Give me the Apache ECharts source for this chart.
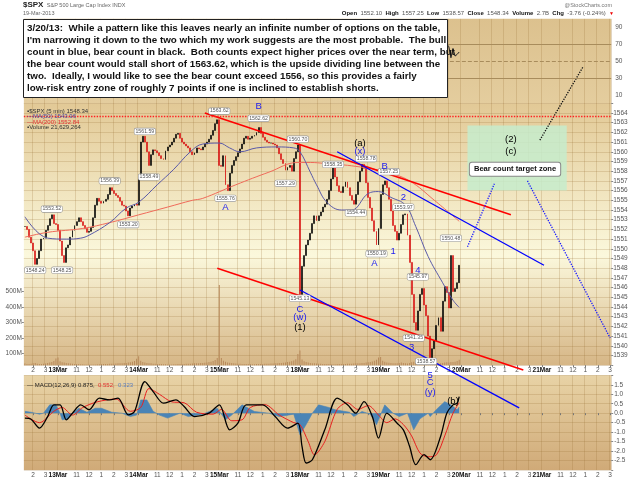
<!DOCTYPE html>
<html>
<head>
<meta charset="utf-8">
<script src="https://cdn.jsdelivr.net/npm/echarts@6.0.0/dist/echarts.min.js"></script>
<style>
  html, body { margin: 0; padding: 0; background: #fff; }
  #chart { width: 640px; height: 479px; }
</style>
</head>
<body>
<div id="chart"></div>
<script>
// trading days on the axis; each day is cut into 10 minute slots from 9:30
const dayNames = ['12Mar', '13Mar', '14Mar', '15Mar', '18Mar', '19Mar', '20Mar', '21Mar']
const dayFirstSlot = [23, 0, 0, 0, 0, 0, 0, 0]
const dayLastSlot = [38, 38, 38, 38, 38, 38, 38, 33]

// $SPX closes, one per slot
const close12 = [1552.3, 1552.0, 1551.2, 1550.6, 1549.8, 1548.4, 1549.0, 1549.8, 1551.0, 1551.1, 1551.9, 1552.4, 1553.1, 1553.5, 1552.6, 1552.5]
const close13 = [1551.9, 1550.8, 1549.3, 1548.6, 1550.1, 1550.4, 1551.2, 1551.9, 1552.4, 1552.8, 1553.2, 1552.8, 1552.4, 1552.1, 1551.7, 1551.8, 1552.2, 1553.2, 1554.5, 1555.2, 1554.9, 1554.7, 1554.9, 1555.1, 1555.6, 1556.3, 1556.0, 1555.7, 1555.5, 1555.3, 1554.9, 1554.5, 1554.4, 1553.9, 1553.4, 1554.2, 1554.4, 1554.6, 1554.5]
const close14 = [1557.5, 1561.0, 1561.6, 1561.0, 1560.0, 1558.6, 1559.7, 1560.2, 1560.1, 1559.9, 1559.6, 1559.3, 1559.2, 1560.1, 1560.5, 1560.7, 1561.0, 1561.4, 1561.8, 1561.9, 1561.4, 1561.0, 1560.8, 1560.6, 1560.4, 1560.0, 1559.7, 1559.9, 1560.4, 1560.3, 1560.2, 1560.5, 1560.8, 1561.0, 1561.3, 1561.7, 1562.2, 1562.9, 1563.3]
const close15 = [1558.6, 1558.5, 1559.6, 1556.6, 1556.0, 1557.8, 1558.6, 1559.1, 1559.5, 1559.9, 1560.3, 1560.8, 1561.4, 1561.6, 1561.3, 1561.4, 1561.6, 1561.7, 1562.0, 1562.5, 1561.9, 1561.5, 1561.2, 1561.0, 1560.9, 1560.9, 1560.8, 1560.7, 1560.4, 1559.8, 1559.2, 1558.8, 1558.1, 1558.4, 1558.6, 1558.0, 1559.3, 1560.0, 1560.7]
const close18 = [1545.3, 1548.2, 1549.3, 1550.4, 1550.9, 1551.6, 1552.6, 1553.4, 1552.9, 1553.4, 1553.8, 1554.3, 1554.6, 1555.1, 1556.0, 1557.2, 1558.4, 1557.4, 1556.5, 1555.9, 1555.8, 1556.4, 1556.9, 1556.3, 1555.5, 1555.0, 1554.6, 1555.6, 1556.9, 1558.0, 1558.7, 1558.3, 1556.8, 1555.3, 1554.2, 1552.9, 1551.8, 1550.4, 1552.1]
const close19 = [1555.6, 1556.6, 1557.0, 1556.3, 1555.1, 1553.9, 1552.4, 1551.8, 1550.9, 1551.6, 1552.5, 1553.5, 1553.6, 1551.4, 1548.6, 1545.3, 1542.4, 1541.6, 1543.6, 1545.3, 1545.9, 1544.2, 1543.1, 1541.0, 1538.6, 1539.7, 1540.5, 1542.1, 1542.9, 1541.5, 1544.6, 1546.1, 1545.5, 1543.9, 1549.3, 1545.6, 1545.9, 1546.5, 1548.3]

// volume per slot, millions
const vol12 = [34, 31, 30, 33, 36, 38, 33, 31, 30, 32, 34, 37, 40, 44, 50, 66]
const vol13 = [72, 48, 42, 40, 37, 35, 34, 33, 31, 30, 30, 29, 29, 28, 28, 28, 27, 27, 28, 29, 29, 30, 30, 31, 31, 32, 33, 33, 34, 35, 36, 36, 37, 38, 40, 42, 45, 50, 64]
const vol14 = [80, 52, 44, 41, 38, 36, 35, 33, 32, 31, 30, 30, 29, 29, 28, 28, 28, 29, 29, 30, 30, 31, 31, 32, 32, 33, 34, 35, 35, 36, 37, 38, 39, 41, 43, 46, 50, 56, 70]
const vol15 = [540, 70, 52, 45, 41, 39, 37, 35, 34, 33, 32, 31, 31, 30, 30, 30, 29, 29, 30, 30, 31, 31, 32, 32, 33, 34, 34, 35, 36, 37, 38, 39, 41, 43, 45, 48, 53, 62, 95]
const vol18 = [118, 60, 48, 43, 40, 38, 36, 35, 34, 33, 32, 31, 31, 30, 30, 30, 29, 29, 30, 30, 30, 31, 31, 32, 33, 33, 34, 35, 36, 36, 37, 38, 40, 42, 44, 47, 51, 58, 72]
const vol19 = [76, 52, 45, 41, 39, 37, 36, 35, 36, 38, 40, 38, 36, 34, 37, 42, 45, 41, 38, 36, 35, 34, 35, 37, 40, 38, 36, 35, 34, 36, 38, 40, 42, 40, 44, 43, 45, 50, 58]

// overlays read at [slot, value]
const ma50 = [[0, 1553.3], [11, 1551.1], [20, 1551.0], [27, 1551.1], [31, 1551.4], [41, 1552.7], [49, 1554.2], [55, 1554.8], [64, 1556.6], [72, 1558.2], [80, 1560.0], [86, 1560.8], [94, 1560.9], [99, 1560.4], [104, 1560.0], [112, 1560.4], [122, 1560.5], [130, 1560.4], [133, 1560.0], [138, 1557.9], [141, 1556.6], [146, 1554.8], [153, 1554.0], [158, 1554.0], [166, 1555.7], [171, 1555.9], [177, 1555.3], [184, 1554.5], [189, 1552.3], [195, 1549.2], [202, 1546.5], [207, 1544.7], [210, 1543.96]]
const ma200 = [[0, 1551.2], [11, 1551.7], [28, 1552.1], [41, 1552.7], [55, 1553.5], [69, 1554.3], [81, 1555.0], [86, 1555.2], [102, 1556.6], [118, 1557.9], [132, 1558.9], [138, 1558.9], [145, 1558.8], [160, 1558.5], [175, 1557.9], [186, 1557.0], [198, 1555.0], [210, 1552.84]]
const rsi14 = [[203, 66], [204, 70], [205, 67], [206, 54], [207, 65], [208, 56], [209, 58], [210, 60.83]]
const macdLine = [[0, -0.26], [3, -0.32], [7, -0.79], [11, -0.18], [14, 0.44], [17, 0.44], [20, -0.35], [23, 0.0], [27, 0.44], [31, 0.18], [36, 0.79], [41, 0.70], [45, 0.79], [50, -0.09], [53, 0.09], [58, 1.67], [62, 1.14], [67, 0.53], [73, 0.70], [77, 0.35], [82, -0.18], [89, 0.0], [94, 0.44], [99, -0.88], [103, -0.53], [107, 0.44], [115, 0.44], [121, -0.18], [127, -0.79], [132, -0.53], [134, -1.75], [136, -2.63], [139, -2.46], [145, -0.88], [151, 0.79], [156, 0.44], [160, 0.0], [164, 0.61], [168, -0.18], [171, -1.32], [175, 0.0], [180, -0.53], [183, -0.88], [186, -1.75], [189, -2.72], [193, -2.19], [196, -2.46], [201, -1.23], [204, 0.0], [207, 0.44], [209, 0.53], [210, 0.875]]
const macdSignal = [[0, -0.1], [7, -0.5], [14, 0.1], [18, 0.3], [23, -0.1], [28, 0.3], [35, 0.6], [44, 0.75], [51, 0.1], [56, 0.3], [60, 1.3], [65, 1.0], [71, 0.6], [77, 0.55], [83, 0.05], [91, -0.05], [95, 0.2], [100, -0.4], [105, -0.35], [109, 0.3], [116, 0.45], [123, -0.1], [130, -0.5], [133, -0.6], [137, -1.5], [140, -2.2], [145, -1.5], [151, 0.2], [156, 0.55], [161, 0.2], [166, 0.4], [171, -0.1], [175, -0.5], [179, -0.3], [183, -0.6], [187, -1.2], [191, -2.1], [195, -2.3], [199, -2.2], [203, -1.2], [207, 0.0], [210, 0.552]]
const macdHist = [[0, 0.1], [3, 0.05], [7, -0.05], [9, 0.0], [12, 0.44], [15, 0.44], [17, 0.0], [18, -0.35], [21, -0.3], [23, 0.0], [26, 0.26], [30, 0.05], [34, 0.26], [37, 0.26], [42, 0.05], [47, 0.0], [51, -0.18], [54, -0.1], [56, 0.7], [59, 0.7], [62, 0.1], [65, -0.1], [69, -0.26], [75, 0.0], [79, -0.18], [86, -0.05], [93, 0.26], [97, -0.35], [100, -0.1], [105, 0.44], [111, 0.09], [118, 0.0], [123, -0.18], [130, -0.05], [133, -1.14], [136, -0.6], [139, 0.0], [142, 0.44], [147, 0.3], [150, 0.18], [157, 0.05], [159, -0.18], [163, 0.09], [167, -0.05], [170, -0.61], [174, 0.44], [178, 0.0], [181, -0.18], [185, 0.0], [188, -0.88], [191, -0.3], [195, 0.0], [196, -0.18], [199, 0.2], [203, 0.61], [206, 0.44], [209, 0.18], [210, 0.323]]

// drawn counts: [fromSlot, fromPrice, toSlot, toPrice, kind]
const trendLines = [
  [87, 1564.0, 235, 1553.5, 'bearChannel'],
  [93, 1548.0, 241, 1537.5, 'bearChannel'],
  [151, 1560.0, 251, 1548.3, 'bullChannel'],
  [133, 1545.75, 239, 1533.6, 'bullChannel'],
  [214, 1550.2, 227, 1556.7, 'bullPath'],
  [243, 1557.0, 283, 1540.8, 'bullPath'],
  [249, 1561.2, 270, 1568.8, 'bearPath']
]
const dividingLine = 1563.62
const targetZone = [214, 1562.7, 262, 1556.0]

// wave labels: [slot, price, text, count]
const waveLabels = [
  [113, 1564.7, 'B', 'bull'], [97, 1554.3, 'A', 'bull'],
  [133, 1543.8, 'C', 'bull'], [133, 1542.9, '(w)', 'bull'], [133, 1541.9, '(1)', 'bear'],
  [162, 1560.9, '(a)', 'bear'], [162, 1560.0, '(x)', 'bull'],
  [174, 1558.5, 'B', 'bull'], [169, 1548.5, 'A', 'bull'],
  [178, 1549.7, '1', 'bull'], [183, 1555.3, '2', 'bull'], [187, 1539.8, '3', 'bull'],
  [190, 1547.8, '4', 'bull'], [196, 1537.0, '5', 'bull'], [196, 1536.2, 'C', 'bull'],
  [196, 1535.2, '(y)', 'bull'], [207, 1534.3, '(b)', 'bear'],
  [235, 1561.3, '(2)', 'bear'], [235, 1560.0, '(c)', 'bear']
]
const zoneCaption = [237, 1558.2, 'Bear count target zone']

// swing value tags: [slot, price, text]
const valueTags = [
  [5, 1547.8, '1548.24'], [18, 1547.8, '1548.25'], [13, 1554.1, '1553.52'],
  [41, 1557.0, '1556.39'], [50, 1552.5, '1553.20'], [58, 1562.1, '1561.59'],
  [60, 1557.4, '1558.49'], [94, 1564.2, '1563.62'], [113, 1563.45, '1562.62'],
  [132, 1561.3, '1560.70'], [97, 1555.2, '1555.76'], [126, 1556.75, '1557.29'],
  [133, 1544.9, '1545.13'], [149, 1558.7, '1558.35'], [165, 1559.3, '1558.78'],
  [160, 1553.7, '1554.44'], [176, 1557.95, '1557.25'], [170, 1549.5, '1550.19'],
  [183, 1554.3, '1553.97'], [190, 1547.1, '1545.97'], [188, 1540.8, '1541.35'],
  [194, 1538.4, '1538.57'], [206, 1551.1, '1550.48']
]

const noteLines = [
  '3/20/13:  While a pattern like this leaves nearly an infinite number of options on the table,',
  "I'm narrowing it down to the two which my work suggests are the most probable.  The bull",
  'count in blue, bear count in black.  Both counts expect higher prices over the near term, but',
  'the bear count would stall short of 1563.62, which is the upside dividing line between the',
  'two.  Ideally, I would like to see the bear count exceed 1556, so this provides a fairly',
  'low-risk entry zone of roughly 7 points if one is inclined to establish shorts.'
]

// ---- build the axis and series data ----
const categories = []
dayNames.forEach((d, di) => {
  for (let k = dayFirstSlot[di]; k <= dayLastSlot[di]; k++) {
    const t = 570 + k * 10
    categories.push(d + ' ' + Math.floor(t / 60) + ':' + String(t % 60).padStart(2, '0'))
  }
})
function minuteOf(i) {
  const hm = categories[i].split(' ')[1].split(':')
  return +hm[0] * 60 + +hm[1]
}
function isMarked(i) {
  const t = minuteOf(i)
  return t === 570 || (t % 60 === 0 && t !== 600)
}
function tickText(value) {
  const [day, hm] = value.split(' ')
  const h = +hm.split(':')[0]
  if (hm === '9:30') return '{d|' + day + '}'
  return String(h > 12 ? h - 12 : h)
}

const closes = [].concat(close12, close13, close14, close15, close18, close19)
const candles = closes.map((c, i) => {
  const o = i ? closes[i - 1] : c
  return [o, c, Math.min(o, c), Math.max(o, c)]
})
const volumes = [].concat(vol12, vol13, vol14, vol15, vol18, vol19)

const FONT = '"Liberation Sans", Arial, sans-serif'
const gridLine = 'rgba(150, 110, 50, 0.22)'
const BULL = '#1a1af0'

const boxLabel = (text, border, color) => ({
  show: true, position: 'end', distance: 2, formatter: text,
  fontSize: 6, color: color || '#111', backgroundColor: '#fff',
  borderColor: border, borderWidth: 1, borderRadius: 2, padding: [0, 1, 0, 1]
})
const valueBox = (value, text, border, color) => ({
  yAxis: value, lineStyle: { opacity: 0 }, label: boxLabel(text, border, color)
})

function xAxisFor(gridIndex, showLabels) {
  return {
    type: 'category', gridIndex, data: categories, boundaryGap: true,
    axisLine: { show: false },
    axisTick: { show: showLabels, interval: isMarked, alignWithLabel: true, length: 2, lineStyle: { color: '#777' } },
    axisLabel: {
      show: showLabels, interval: isMarked, formatter: tickText, margin: 2,
      fontSize: 6.5, color: '#555', fontFamily: FONT,
      rich: { d: { fontSize: 6.5, fontWeight: 'bold', color: '#111', fontFamily: FONT } }
    },
    splitLine: { show: true, interval: isMarked, lineStyle: { color: gridLine, width: 1 } }
  }
}

const trendStyle = {
  bearChannel: { color: '#ff0000', width: 1.6, type: 'solid' },
  bullChannel: { color: '#0000ff', width: 1.3, type: 'solid' },
  bullPath: { color: '#1a1aff', width: 1.3, type: 'dotted' },
  bearPath: { color: '#111111', width: 1.3, type: 'dotted' }
}

const plainLabel = { show: true, position: 'inside', textBorderWidth: 0, textShadowBlur: 0, opacity: 1 }

const chart = echarts.init(document.getElementById('chart'))

chart.setOption({
  animation: false,
  backgroundColor: '#fff',
  textStyle: { fontFamily: FONT },
  grid: [
    { left: 23.87, right: 28.8, top: 18.85, height: 84.6, show: true, borderWidth: 0,
      backgroundColor: new echarts.graphic.LinearGradient(0, 0, 0, 1, [
        { offset: 0, color: '#dcc18e' }, { offset: 1, color: '#e4cd9e' }]) },
    { left: 23.87, right: 28.8, top: 103.3, height: 261.9, show: true, borderWidth: 0,
      backgroundColor: new echarts.graphic.LinearGradient(0, 0, 0, 1, [
        { offset: 0, color: '#e2c996' }, { offset: 0.58, color: '#fbf8dc' }, { offset: 1, color: '#d6b686' }]) },
    { left: 23.87, right: 28.8, top: 375.3, height: 95, show: true, borderWidth: 0,
      backgroundColor: new echarts.graphic.LinearGradient(0, 0, 0, 1, [
        { offset: 0, color: '#e8d3a6' }, { offset: 1, color: '#d0aa78' }]) }
  ],
  xAxis: [xAxisFor(0, false), xAxisFor(1, true), xAxisFor(2, true)],
  yAxis: [
    { type: 'value', gridIndex: 0, position: 'right', min: 0, max: 100, interval: 10,
      axisLine: { show: false }, axisTick: { show: false }, splitLine: { show: false },
      axisLabel: { fontSize: 6.5, color: '#555', margin: 4, formatter: v => (v % 20 === 10 ? String(v) : '') } },
    { type: 'value', gridIndex: 1, position: 'right', min: 1538, max: 1565, interval: 1,
      axisLine: { show: false }, axisTick: { show: true, length: 2, lineStyle: { color: '#888' } },
      splitLine: { lineStyle: { color: gridLine } },
      axisLabel: { fontSize: 6.5, color: '#555', margin: 2, formatter: v => (v <= 1538 || v >= 1565 ? '' : String(v)) } },
    { type: 'value', gridIndex: 1, position: 'left', min: 23, max: 1713,
      axisLine: { show: false }, splitLine: { show: false },
      axisTick: { show: true, length: 2, customValues: [100, 200, 300, 400, 500], lineStyle: { color: '#888' } },
      axisLabel: { customValues: [100, 200, 300, 400, 500], formatter: v => v + 'M', fontSize: 6.5, color: '#555', margin: 2 } },
    { type: 'value', gridIndex: 2, position: 'right', min: -3, max: 2, interval: 0.5,
      axisLine: { show: false }, axisTick: { show: true, length: 2, lineStyle: { color: '#888' } },
      splitLine: { lineStyle: { color: gridLine } },
      axisLabel: { fontSize: 6.5, color: '#555', margin: 3, formatter: v => (v <= -3 || v >= 2 ? '' : v.toFixed(1)) } }
  ],
  series: [
    // RSI panel
    { type: 'line', name: 'RSI', xAxisIndex: 0, yAxisIndex: 0, data: rsi14, symbol: 'none',
      lineStyle: { color: '#222', width: 1 },
      markLine: { symbol: 'none', silent: true, label: { show: false }, data: [
        { yAxis: 70, lineStyle: { color: '#a88c5c', width: 1, type: 'solid' } },
        { yAxis: 50, lineStyle: { color: '#a88c5c', width: 1, type: 'dashed' } },
        { yAxis: 30, lineStyle: { color: '#a88c5c', width: 1, type: 'solid' } },
        valueBox(60.83, '60.83', '#777')
      ] } },
    // volume
    { type: 'bar', name: 'Volume', xAxisIndex: 1, yAxisIndex: 2, data: volumes, barWidth: 1,
      itemStyle: { color: '#b88a5c' }, silent: true,
      markLine: { symbol: 'none', silent: true, data: [valueBox(23.5, '21.63M', '#999', '#555')] } },
    // moving averages
    { type: 'line', name: 'MA(200)', xAxisIndex: 1, yAxisIndex: 1, data: ma200, symbol: 'none', smooth: 0.4,
      lineStyle: { color: '#f06a5a', width: 1 },
      markLine: { symbol: 'none', silent: true, data: [valueBox(1552.84, '1552.84', '#f03030', '#c00')] } },
    { type: 'line', name: 'MA(50)', xAxisIndex: 1, yAxisIndex: 1, data: ma50, symbol: 'none', smooth: 0.4,
      lineStyle: { color: '#5a5aa8', width: 1 },
      markLine: { symbol: 'none', silent: true, data: [valueBox(1543.96, '1543.96', '#5a5ac0', '#333')] } },
    // price
    { type: 'candlestick', name: '$SPX', xAxisIndex: 1, yAxisIndex: 1, data: candles, barWidth: 1.4,
      itemStyle: { color: '#000', color0: '#d81010', borderColor: '#000', borderColor0: '#d81010', borderWidth: 0.6 },
      markLine: { symbol: 'none', silent: true, data: [
        { yAxis: dividingLine, lineStyle: { color: '#ff2020', width: 1.4, type: 'dotted' }, label: { show: false } },
        valueBox(closes[closes.length - 1], '1548.34', '#555')
      ] },
      markArea: { silent: true, itemStyle: { color: 'rgba(198, 236, 204, 0.85)' },
        data: [[{ coord: [targetZone[0], targetZone[1]] }, { coord: [targetZone[2], targetZone[3]] }]] } },
    // trend lines and projections
    ...trendLines.map(t => ({
      type: 'line', xAxisIndex: 1, yAxisIndex: 1, data: [[t[0], t[1]], [t[2], t[3]]],
      symbol: 'none', clip: false, silent: true, z: 4, lineStyle: trendStyle[t[4]]
    })),
    // swing value tags
    { type: 'scatter', xAxisIndex: 1, yAxisIndex: 1, clip: false, silent: true, z: 5, symbolSize: 1,
      itemStyle: { color: 'transparent' },
      data: valueTags.map(v => ({ value: [v[0], v[1]], label: { formatter: v[2] } })),
      label: { ...plainLabel, fontSize: 5.2, color: '#555', backgroundColor: '#fff',
        borderColor: '#999', borderWidth: 0.6, borderRadius: 1.5, padding: [1, 1, 0, 1] } },
    // wave counts
    { type: 'scatter', xAxisIndex: 1, yAxisIndex: 1, clip: false, silent: true, z: 6, symbolSize: 1,
      itemStyle: { color: 'transparent' },
      data: waveLabels.map(w => ({ value: [w[0], w[1]],
        label: { formatter: w[2], color: w[3] === 'bull' ? BULL : '#000' } })),
      label: { ...plainLabel, fontSize: 9.5, fontFamily: FONT } },
    { type: 'scatter', xAxisIndex: 1, yAxisIndex: 1, silent: true, z: 6, symbolSize: 1,
      itemStyle: { color: 'transparent' },
      data: [{ value: [zoneCaption[0], zoneCaption[1]], label: { formatter: zoneCaption[2] } }],
      label: { ...plainLabel, fontSize: 7.6, fontWeight: 'bold', color: '#111',
        backgroundColor: '#fff', borderColor: '#888', borderWidth: 1, borderRadius: 2, padding: [3, 4, 2, 4] } },
    // MACD panel
    { type: 'line', name: 'Histogram', xAxisIndex: 2, yAxisIndex: 3, data: macdHist, symbol: 'none',
      lineStyle: { color: '#4a84b6', width: 0.6 }, areaStyle: { color: '#4a84b6', opacity: 1 },
      markLine: { symbol: 'none', silent: true, data: [valueBox(0.323, '0.323', '#5a7fc0', '#333')] } },
    { type: 'line', name: 'Signal', xAxisIndex: 2, yAxisIndex: 3, data: macdSignal, symbol: 'none', smooth: 0.3,
      lineStyle: { color: '#e82020', width: 1 },
      markLine: { symbol: 'none', silent: true, data: [valueBox(0.552, '0.552', '#e82020', '#c00')] } },
    { type: 'line', name: 'MACD', xAxisIndex: 2, yAxisIndex: 3, data: macdLine, symbol: 'none', smooth: 0.3,
      lineStyle: { color: '#000', width: 1.3 },
      markLine: { symbol: 'none', silent: true, data: [valueBox(0.875, '0.875', '#333')] } }
  ],
  graphic: [
    { type: 'text', x: 23, y: 5, z: 50, style: { text: '{b|$SPX} {n|S&P 500 Large Cap Index INDX}', verticalAlign: 'middle',
      rich: { b: { fontSize: 8, fontWeight: 'bold', fill: '#222', fontFamily: FONT }, n: { fontSize: 5.5, fill: '#666', fontFamily: FONT } } } },
    { type: 'text', x: 23, y: 13, z: 50, style: { text: '19-Mar-2013', fontSize: 5.5, fill: '#666', fontFamily: FONT, verticalAlign: 'middle' } },
    { type: 'text', x: 612, y: 5, z: 50, style: { text: '@StockCharts.com', fontSize: 5.5, fill: '#777', fontFamily: FONT, align: 'right', verticalAlign: 'middle' } },
    { type: 'text', x: 614, y: 13.5, z: 50, style: {
      text: '{k|Open} {v|1552.10} {k|High} {v|1557.25} {k|Low} {v|1538.57} {k|Close} {v|1548.34} {k|Volume} {v|2.7B} {k|Chg} {v|-3.76 (-0.24%)} {r|▼}',
      align: 'right', verticalAlign: 'middle',
      rich: { k: { fontSize: 6, fontWeight: 'bold', fill: '#111', fontFamily: FONT }, v: { fontSize: 6, fill: '#555', fontFamily: FONT }, r: { fontSize: 5, fill: '#e00' } } } },
    // legends inside the panels
    { type: 'text', x: 27, y: 111, z: 50, style: { text: '▪$SPX (5 min) 1548.34', fontSize: 6, fill: '#333', fontFamily: FONT, verticalAlign: 'middle' } },
    { type: 'text', x: 27, y: 116.5, z: 50, style: { text: '—MA(50) 1543.96', fontSize: 6, fill: '#4a4aa0', fontFamily: FONT, verticalAlign: 'middle' } },
    { type: 'text', x: 27, y: 122, z: 50, style: { text: '—MA(200) 1552.84', fontSize: 6, fill: '#e03030', fontFamily: FONT, verticalAlign: 'middle' } },
    { type: 'text', x: 27, y: 127.5, z: 50, style: { text: '▪Volume 21,629,264', fontSize: 6, fill: '#333', fontFamily: FONT, verticalAlign: 'middle' } },
    { type: 'text', x: 27, y: 385, z: 50, style: { text: '{k|— MACD(12,26,9) 0.875,} {r|0.552,} {b|0.323}', verticalAlign: 'middle',
      rich: { k: { fontSize: 6, fill: '#222', fontFamily: FONT }, r: { fontSize: 6, fill: '#e03030', fontFamily: FONT }, b: { fontSize: 6, fill: '#5a7fc0', fontFamily: FONT } } } },
    // the note
    { type: 'rect', z: 100, shape: { x: 23.5, y: 19.5, width: 424, height: 78 }, style: { fill: '#fff', stroke: '#222', lineWidth: 1 } },
    ...noteLines.map((line, i) => ({
      type: 'text', z: 101, x: 27, y: 28 + i * 12,
      style: { text: line, fontSize: 9.8, fontWeight: 'bold', fill: '#111', fontFamily: FONT, verticalAlign: 'middle' }
    }))
  ]
})
</script>
</body>
</html>
